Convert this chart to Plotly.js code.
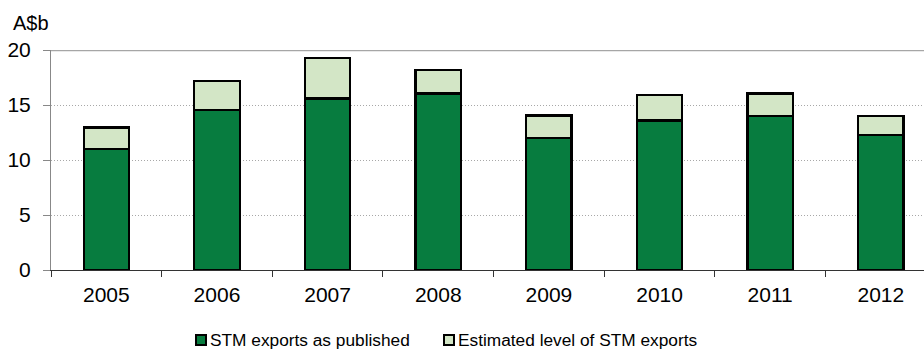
<!DOCTYPE html>
<html><head><meta charset="utf-8">
<script src="https://cdn.plot.ly/plotly-3.0.1.min.js"></script>
<style>html,body{margin:0;padding:0;background:#fff}#chart{width:924px;height:349px}</style>
</head><body><div id="chart"></div>
<script>
const years = ['2005','2006','2007','2008','2009','2010','2011','2012'];
const published = [11.0, 14.55, 15.6, 16.05, 12.0, 13.6, 14.0, 12.3];
const estimatedExtra = [1.95, 2.65, 3.7, 2.15, 2.05, 2.3, 2.05, 1.7];
const seriesNames = ['STM exports as published', 'Estimated level of STM exports'];
const seriesColors = ['#077C3F', '#D3E6C6'];
const yTicks = [0, 5, 10, 15, 20];

const font = {family: 'Liberation Sans, Arial, sans-serif', color: '#000'};
const M = {l: 51, r: 0, t: 50, b: 79}, W = 924, H = 349;
const pw = W - M.l - M.r, ph = H - M.t - M.b;
const px = v => (v - M.l) / pw;
const py = v => (H - M.b - v) / ph;

const data = [
  {type:'bar', x: years, y: published, name: seriesNames[0], width: 0.41, showlegend: false,
   marker:{color: seriesColors[0], line:{color:'#000', width:2.2}}},
  {type:'bar', x: years, y: estimatedExtra, name: seriesNames[1], width: 0.41, showlegend: false,
   marker:{color: seriesColors[1], line:{color:'#000', width:2.2}}}
];

// manual legend (swatch + label)
const legendX = [196, 444];
const shapes = [{type: 'line', xref: 'paper', x0: 0, x1: 1, yref: 'y', y0: 20, y1: 20, line: {color: '#a6a6a6', width: 2.5}}];
const annotations = [{text: 'A$b', xref: 'paper', x: px(11), xanchor: 'left', yref: 'paper', y: py(23), yanchor: 'middle', showarrow: false,
                 font: Object.assign({size: 20}, font)}];
seriesNames.forEach((n, i) => {
  shapes.push({type: 'rect', xref: 'paper', yref: 'paper', x0: px(legendX[i]), x1: px(legendX[i] + 10),
               y0: py(345), y1: py(335), fillcolor: seriesColors[i], line: {color: '#000', width: 2}});
  annotations.push({text: n, xref: 'paper', yref: 'paper', x: px(legendX[i] + 12), xanchor: 'left', y: py(340), yanchor: 'middle',
                    showarrow: false, font: Object.assign({size: 17.3}, font)});
});

const layout = {
  width: W, height: H, barmode: 'stack',
  margin: M,
  paper_bgcolor: '#fff', plot_bgcolor: '#fff',
  font: Object.assign({size: 20}, font),
  showlegend: false,
  xaxis: {type: 'category', range: [-0.5, 7.39], showgrid: false, showline: true, linecolor: '#333', linewidth: 1,
          ticks: 'outside', tickson: 'boundaries', ticklen: 6, tickcolor: '#333', ticklabelstandoff: 6,
          tickfont: Object.assign({size: 21}, font), fixedrange: true},
  yaxis: {range: [0, 20], tickvals: yTicks, ticks: 'outside', ticklen: 7, tickcolor: '#888', showline: true, linecolor: '#888', linewidth: 1,
          showgrid: true, gridcolor: '#a8a8a8', griddash: '1px,2px', gridwidth: 1, zeroline: false, ticklabelstandoff: 8,
          tickfont: Object.assign({size: 21}, font)},
  shapes: shapes,
  annotations: annotations
};
Plotly.newPlot('chart', data, layout, {displayModeBar: false, staticPlot: true});
</script></body></html>
